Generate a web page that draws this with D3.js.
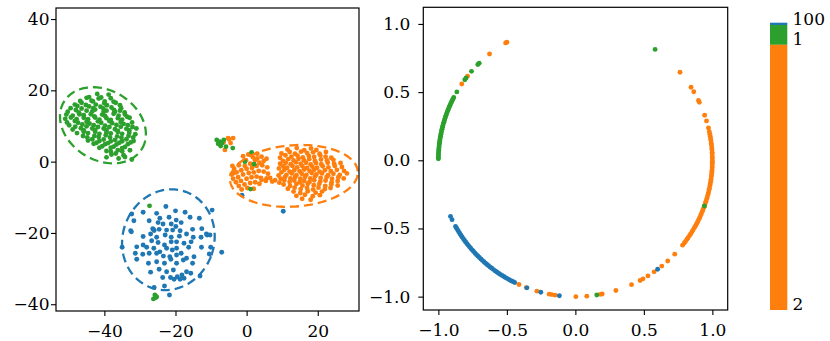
<!DOCTYPE html>
<html>
<head>
<meta charset="utf-8">
<script src="https://cdn.jsdelivr.net/npm/d3@7"></script>
<style>
body{margin:0;background:#fff}
text{font-family:"DejaVu Serif",serif;fill:#000}
</style>
</head>
<body>
<svg id="chart" width="830" height="341"></svg>
<script>
var BLUE = '#1f77b4', ORANGE = '#ff7f0e', GREEN = '#2ca02c';

// left panel: embedded points, one list per class
var bluePts = [[-22.7,-12.6],[-29.1,-14.2],[-25.3,-14.5],[-20.0,-13.8],[-17.3,-14.2],[-9.7,-13.6],[-32.3,-14.7],
 [-31.7,-16.6],[-27.4,-16.6],[-24.4,-15.9],[-21.8,-15.6],[-19.8,-16.4],[-15.9,-15.6],[-13.3,-15.9],[-24.9,-17.1],
 [-23.5,-17.5],[-21.2,-17.5],[-18.4,-17.1],[-32.6,-19.4],[-32.4,-19.7],[-26.2,-19.0],[-26.0,-19.3],[-26.4,-18.8],
 [-24.6,-19.0],[-22.5,-19.2],[-20.8,-19.2],[-19.9,-18.2],[-18.7,-19.4],[-15.2,-19.0],[-12.6,-18.8],[-11.1,-20.6],
 [-11.3,-20.3],[-10.3,-20.6],[-29.1,-21.0],[-27.0,-20.3],[-25.3,-21.2],[-22.9,-20.6],[-21.2,-21.2],[-18.9,-20.9],
 [-16.9,-20.3],[-15.0,-21.2],[-12.8,-21.2],[-30.9,-23.9],[-29.1,-23.4],[-26.7,-22.2],[-24.9,-22.7],[-23.1,-23.4],
 [-21.2,-22.5],[-19.7,-22.5],[-17.6,-22.9],[-15.6,-22.5],[-12.7,-24.0],[-10.1,-24.0],[-35.0,-24.0],[-31.3,-25.7],
 [-28.1,-24.0],[-26.1,-24.3],[-24.4,-25.3],[-22.5,-24.3],[-20.9,-24.8],[-19.7,-24.3],[-18.4,-25.7],[-16.3,-24.0],
 [-29.2,-26.0],[-27.4,-25.7],[-25.3,-25.7],[-23.4,-26.5],[-21.6,-26.7],[-19.7,-26.2],[-16.9,-27.1],[-14.8,-26.7],
 [-10.5,-25.9],[-7.0,-25.4],[-30.9,-27.4],[-27.6,-28.5],[-25.3,-28.1],[-23.1,-28.5],[-21.3,-27.4],[-19.7,-28.5],
 [-17.8,-27.6],[-15.2,-28.5],[-24.6,-30.2],[-22.5,-30.9],[-20.6,-30.4],[-19.5,-32.3],[-18.2,-31.8],[-16.9,-30.9],
 [-15.7,-31.3],[-13.1,-32.1],[-27.0,-31.0],[-23.6,-32.5],[-21.4,-32.5],[-20.4,-33.0],[-18.7,-33.0],[-17.6,-32.7],
 [-26.0,-35.3],[-23.1,-34.9],[-21.7,-37.4],[-1.3,-9.4],[10.3,-13.9]];

var orangePts = [
 // small group near (-5, 5)
 [-5.2,6.6],[-3.8,6.6],[-4.5,5.2],[-6.1,3.3],[-6.5,5.4],[-4.9,6.2],
 // left part of the big cluster
 [-1.0,1.5],[0.5,2.0],[1.8,1.2],[3.0,2.2],[2.4,0.4],[4.2,1.4],[5.6,0.8],[3.6,-0.3],[1.0,-0.6],[-0.5,-1.2],
 [-2.2,-1.0],[-3.5,-2.0],[-4.2,-3.6],[-2.8,-3.0],[-1.5,-2.4],[0.0,-2.0],[1.5,-1.8],[2.8,-1.2],[4.4,-1.0],
 [5.8,-1.6],[-3.8,-4.8],[-2.4,-4.4],[-1.0,-3.6],[0.6,-3.2],[2.0,-3.0],[3.4,-2.6],[4.8,-2.8],
 [6.0,-3.4],[-3.0,-5.8],[-1.6,-5.4],[0.0,-4.8],[1.4,-4.4],[2.8,-4.2],[4.0,-4.6],[-2.2,-6.8],[-0.6,-6.4],
 [1.0,-6.0],[2.4,-5.8],[3.6,-6.2],[5.4,-5.4],[0.2,-7.4],[2.0,-7.6],[-1.4,-7.8],[-3.6,-3.2],[-0.2,0.4],
 [6.6,-4.6],[8.0,-5.2],[3.0,0.9],[4.8,0.2],[-4.0,-1.2],[4.2,-5.1],[5.6,-4.7],[7.2,-5.6],
 // right part of the big cluster
 [11.5,3.4],[14.1,3.8],[16.2,3.2],[18.1,3.7],[19.6,3.3],
 [9.8,2.3],[12.1,2.7],[13.6,2.2],[15.3,2.8],[17.0,2.4],[18.7,2.6],[20.5,2.2],[22.3,2.7],
 [9.4,1.1],[10.9,1.8],[12.6,1.4],[14.3,1.7],[15.8,1.2],[17.5,1.6],[19.0,1.3],[20.7,1.8],[22.2,1.4],[23.8,1.1],
 [10.2,0.2],[11.7,0.7],[13.2,0.3],[14.6,0.8],[16.1,0.4],[17.6,0.7],[19.2,0.2],[20.9,0.6],[22.6,0.3],[24.4,0.5],
 [9.4,-0.6],[11.0,-0.3],[12.4,-0.7],[13.9,-0.2],[15.2,-0.6],[16.7,-0.3],[18.0,-0.8],[19.5,-0.4],[21.0,-0.7],
 [22.8,-0.3],[24.6,-0.6],[26.4,-0.4],
 [9.1,-1.9],[10.3,-1.3],[11.4,-1.7],[12.9,-1.2],[14.2,-1.6],[15.7,-1.3],[17.0,-1.8],[18.5,-1.4],[19.8,-1.7],[21.4,-1.3],
 [23.0,-1.6],[24.8,-1.2],[26.8,-1.5],
 [10.6,-2.3],[12.1,-2.8],[13.4,-2.4],[14.9,-2.7],[16.2,-2.2],[17.7,-2.6],[19.0,-2.3],[20.5,-2.8],
 [22.0,-2.4],[23.7,-2.7],[25.4,-2.3],[27.4,-2.6],
 [9.0,-3.9],[9.8,-3.0],[11.2,-3.7],[12.7,-3.3],[14.0,-3.8],[15.5,-3.4],[16.8,-3.7],[18.3,-3.2],[19.6,-3.6],[21.2,-3.3],
 [22.9,-3.8],[24.4,-3.4],[26.2,-3.7],[28.2,-3.3],
 [9.6,-4.8],[10.8,-4.3],[12.3,-4.7],[13.6,-4.4],[15.1,-4.8],[16.4,-4.3],[17.9,-4.7],[19.2,-4.2],[20.8,-4.6],
 [22.5,-4.3],[24.0,-4.8],[25.8,-4.4],[27.3,-4.7],
 [9.2,-5.9],[10.6,-5.2],[12.1,-5.7],[13.4,-5.3],[14.9,-5.8],[16.2,-5.4],[17.7,-5.7],[19.0,-5.2],[20.7,-5.6],[22.2,-5.3],
 [23.9,-5.8],[25.6,-5.4],
 [10.4,-6.4],[12.2,-6.8],[14.0,-6.3],[15.7,-6.7],[17.2,-6.2],[18.9,-6.6],[20.4,-6.3],[22.1,-6.8],[23.8,-6.4],[25.6,-6.7],
 [11.6,-7.6],[13.5,-7.3],[15.2,-7.7],[17.0,-7.4],[18.7,-7.8],[20.2,-7.3],[22.0,-7.7],[23.6,-7.4],
 [13.2,-8.4],[15.1,-8.8],[17.2,-8.3],[19.4,-8.7],[21.2,-8.4],
 [14.0,-9.6],[16.4,-9.3],[18.6,-9.7],[20.6,-9.4],[15.6,-10.4],[18.0,-10.7]];

var greenPts = [
 [-44.3,18.1],[-42.0,19.0],[-40.9,18.0],[-38.8,18.8],
 [-46.8,17.0],[-45.0,17.9],[-43.6,17.1],[-41.6,17.7],[-39.9,16.9],[-38.2,17.8],[-37.4,16.8],
 [-48.3,16.0],[-46.4,16.5],[-45.2,15.9],[-43.2,16.9],[-42.4,16.0],[-40.0,16.4],[-39.3,15.8],[-36.8,16.5],[-35.6,15.8],
 [-49.5,15.0],[-47.6,15.6],[-46.4,14.9],[-44.3,15.5],[-43.1,15.0],[-41.1,15.4],[-40.3,14.9],[-38.0,15.2],[-37.3,14.5],[-35.3,15.0],
 [-50.3,14.0],[-48.0,14.5],[-47.2,13.8],[-45.0,14.3],[-43.4,14.1],[-42.6,14.6],[-40.2,14.0],[-39.4,14.3],[-37.0,14.0],
 [-35.6,14.3],[-34.3,13.8],
 [-50.7,13.2],[-48.9,12.9],[-47.0,13.3],[-45.8,13.0],[-43.8,13.3],[-42.8,12.7],[-40.6,13.2],[-39.8,12.8],[-37.4,13.4],
 [-36.0,12.9],[-34.2,13.2],[-33.6,12.6],
 [-51.0,12.0],[-49.4,12.4],[-47.8,11.9],[-45.8,12.3],[-44.6,11.9],[-42.6,12.4],[-41.4,11.8],[-39.4,12.2],[-38.2,11.7],
 [-36.2,12.2],[-35.0,11.8],[-32.9,12.3],
 [-50.5,11.0],[-48.3,11.4],[-47.4,10.9],[-45.0,11.2],[-44.2,10.7],[-41.8,11.3],[-40.9,10.9],[-38.6,11.4],[-37.8,10.8],
 [-35.4,11.1],[-34.6,10.6],[-32.2,11.0],
 [-49.9,10.2],[-48.2,9.8],[-46.2,10.4],[-45.0,9.9],[-43.0,10.2],[-41.8,9.7],[-39.8,10.1],[-38.6,9.7],[-36.6,10.3],
 [-35.4,9.8],[-33.4,10.2],[-32.1,9.7],
 [-48.9,9.0],[-46.6,9.4],[-45.8,8.8],[-43.4,9.3],[-42.6,8.9],[-40.2,9.3],[-39.4,8.8],[-37.0,9.1],[-36.2,8.6],[-33.8,9.2],
 [-33.0,8.8],[-31.0,9.3],
 [-47.7,8.0],[-45.8,8.4],[-44.6,8.0],[-42.6,8.4],[-41.4,7.8],[-39.4,8.2],[-38.2,7.9],[-36.2,8.3],[-35.0,7.8],[-33.0,8.1],[-31.3,7.7],
 [-46.0,7.2],[-44.8,6.8],[-42.8,7.2],[-41.6,6.9],[-39.6,7.4],[-38.4,6.8],[-36.4,7.1],[-35.2,6.7],[-33.2,7.2],[-31.9,6.8],
 [-44.6,5.9],[-43.4,6.3],[-41.4,5.8],[-40.2,6.2],[-38.2,5.7],[-37.0,6.1],[-35.0,5.7],[-33.8,6.3],[-31.8,5.8],
 [-43.0,5.0],[-42.2,5.3],[-39.8,4.9],[-39.0,5.2],[-36.6,4.8],[-35.8,5.3],[-33.4,4.9],[-32.6,5.4],
 [-41.4,3.9],[-40.6,4.3],[-38.2,3.9],[-37.4,4.2],[-35.0,3.8],[-34.2,4.1],
 [-39.4,3.0],[-38.2,2.8],[-36.2,3.2],[-35.0,2.9],[-32.8,3.2],
 [-38.0,2.0],[-36.8,2.3],[-34.6,1.8],[-39.4,1.2],[-36.0,0.9],[-34.2,1.3],[-32.3,0.6],
 // strays
 [-27.3,-12.4],[-25.8,-37.4],[-25.3,-37.9],[-26.2,-38.5],[-25.5,-38.1],
 [1.4,2.6],[-0.5,0.0],[2.1,-0.7],[1.1,-7.7],
 [-8.4,6.1],[-7.5,5.6],[-6.4,6.1],[-7.3,4.4],[-5.8,4.2],[-3.9,3.8],[-8.0,5.0],[-6.9,5.2]];

// dashed ellipses: blue, orange, green
var ellColors = [BLUE, ORANGE, GREEN];
var ellCx = [-22.0, 13.3, -40.4];
var ellCy = [-21.9, -4.0, 10.2];
var ellA = [12.85, 18.0, 12.8];
var ellB = [14.3, 8.6, 9.8];
var ellAngle = [-20, 4, -31];

// right panel: angle (degrees) of each point on the unit circle
var orangeAngles = [120.0,120.6,128.8,141.9,146.0,40.2,32.4,30.2,26.0,25.2,19.3,16.8,13.7,
 12.1,11.0,10.2,9.1,8.3,7.2,6.4,5.3,4.5,3.4,2.6,1.5,0.7,-0.4,-1.2,-2.3,-3.1,-4.2,-5.0,-6.1,-6.9,-8.0,-8.8,
 -9.9,-10.7,-11.8,-12.6,-13.7,-14.5,-15.6,-16.4,-17.5,-18.3,-19.4,-20.2,-21.3,-22.1,-23.2,-24.0,-25.1,-25.9,
 -27.0,-27.8,-28.9,-29.7,-30.8,-31.6,-32.7,-33.5,-34.6,-35.4,-36.5,-37.3,-38.5,
 -43.5,-47.6,-50.9,-54.9,-58.0,-60.4,-61.8,-65.8,-72.8,-78.7,-79.5,-85.2,-89.8,-98.5,-99.9,-101.0,-106.3,-111.0,-114.3];
var blueAngles = [-155.7,-154.2,-151.0,-150.1,-149.2,-148.4,-147.5,-146.6,-145.8,-144.9,-144.0,-143.2,-142.3,-141.4,
 -140.6,-139.7,-138.8,-138.0,-137.1,-136.2,-135.4,-134.5,-133.6,-132.8,-131.9,-131.0,-130.2,-129.3,-128.4,-127.6,
 -126.7,-125.8,-125.0,-124.1,-123.2,-122.4,-121.5,-120.6,-119.8,-118.9,-118.0,-117.2,-116.3,
 -110.7,-104.6,-96.7,-53.1];
var greenAngles = [179.4,178.8,178.0,177.3,176.5,175.8,175.0,174.3,173.5,172.8,172.0,171.3,170.5,169.8,169.0,168.3,
 167.5,166.8,166.0,165.3,164.5,163.8,163.0,162.3,161.5,160.8,160.0,159.3,158.5,157.8,157.0,156.3,155.5,154.8,154.0,
 153.3,152.6,149.9,143.8,142.9,139.3,135.4,134.6,54.4,-19.6,-81.0];

var leftXTicks = [-40, -20, 0, 20], leftYTicks = [-40, -20, 0, 20, 40];
var rightTicks = [-1.0, -0.5, 0.0, 0.5, 1.0];

// colour bar
var barLabels = ['100', '1', '2'];
var barShares = [0.8, 6.9, 92.3];
var barColors = [BLUE, GREEN, ORANGE];

var svg = d3.select('#chart');
svg.append('rect').attr('width', 830).attr('height', 341).attr('fill', '#fff');

var FS = '17px';

function frame(x, y, xt, yt, fmt, ypad, id) {
	var r0 = x.range(), r1 = y.range();
	svg.append('clipPath').attr('id', id).append('rect')
		.attr('x', r0[0]).attr('y', r1[1]).attr('width', r0[1] - r0[0]).attr('height', r1[0] - r1[1]);

	var gx = svg.append('g').attr('transform', 'translate(0,' + r1[0] + ')')
		.call(d3.axisBottom(x).tickValues(xt).tickSize(5).tickPadding(8.5).tickFormat(fmt));
	var gy = svg.append('g').attr('transform', 'translate(' + r0[0] + ',0)')
		.call(d3.axisLeft(y).tickValues(yt).tickSize(5).tickPadding(ypad).tickFormat(fmt));
	[gx, gy].forEach(function(g) {
		g.select('.domain').remove();
		g.selectAll('line').attr('stroke', '#000').attr('stroke-width', 1.1);
		g.selectAll('text').style('font-size', FS).style('font-family', '"DejaVu Serif",serif').attr('fill', '#000');
	});
	return svg.append('g').attr('clip-path', 'url(#' + id + ')');
}

function box(x, y) {
	var r0 = x.range(), r1 = y.range();
	svg.append('rect').attr('x', r0[0]).attr('y', r1[1])
		.attr('width', r0[1] - r0[0]).attr('height', r1[0] - r1[1])
		.attr('fill', 'none').attr('stroke', '#000').attr('stroke-width', 1.2);
}

function dots(g, pts, x, y, color) {
	g.append('g').selectAll('circle').data(pts).enter().append('circle')
		.attr('cx', function(d) { return x(d[0]); })
		.attr('cy', function(d) { return y(d[1]); })
		.attr('r', 2.45)
		.attr('fill', color);
}

// ---- left panel
var xL = d3.scaleLinear().domain([-53.6, 31.6]).range([56, 359]);
var yL = d3.scaleLinear().domain([-41.9, 43.1]).range([311, 8]);
var gL = frame(xL, yL, leftXTicks, leftYTicks, d3.format('d'), 1.5, 'clipL');

dots(gL, bluePts, xL, yL, BLUE);
dots(gL, orangePts, xL, yL, ORANGE);
dots(gL, greenPts, xL, yL, GREEN);

var steps = d3.range(0, 360, 3);
var ellLine = d3.line().curve(d3.curveLinearClosed);
ellColors.forEach(function(c, i) {
	var phi = ellAngle[i] * Math.PI / 180;
	var path = steps.map(function(s) {
		var t = s * Math.PI / 180;
		var ex = ellCx[i] + ellA[i] * Math.cos(t) * Math.cos(phi) - ellB[i] * Math.sin(t) * Math.sin(phi);
		var ey = ellCy[i] + ellA[i] * Math.cos(t) * Math.sin(phi) + ellB[i] * Math.sin(t) * Math.cos(phi);
		return [xL(ex), yL(ey)];
	});
	gL.append('path').attr('d', ellLine(path))
		.attr('fill', 'none').attr('stroke', c).attr('stroke-width', 2.3)
		.attr('stroke-dasharray', '9,5');
});
box(xL, yL);

// ---- right panel
var xR = d3.scaleLinear().domain([-1.11, 1.112]).range([423.3, 727.7]);
var yR = d3.scaleLinear().domain([-1.098, 1.122]).range([310, 7.3]);
var gR = frame(xR, yR, rightTicks, rightTicks, d3.format('.1f'), 8, 'clipR');

function onCircle(a) {
	var t = a * Math.PI / 180;
	return [Math.cos(t), Math.sin(t)];
}
dots(gR, orangeAngles.map(onCircle), xR, yR, ORANGE);
dots(gR, blueAngles.map(onCircle), xR, yR, BLUE);
dots(gR, greenAngles.map(onCircle), xR, yR, GREEN);
box(xR, yR);

// ---- colour bar
var yC = d3.scaleLinear().domain([0, 100]).range([22.7, 310]);
var ends = d3.cumsum(barShares);
var gC = svg.append('g');
gC.selectAll('rect').data(barShares).enter().append('rect')
	.attr('x', 770).attr('width', 17.3)
	.attr('y', function(d, i) { return yC(ends[i] - d); })
	.attr('height', function(d) { return yC(d) - yC(0); })
	.attr('fill', function(d, i) { return barColors[i]; });
gC.selectAll('text').data(barLabels).enter().append('text')
	.attr('x', 792.5)
	.attr('y', function(d, i) { return yC(ends[i]); })
	.style('font-size', FS)
	.text(function(d) { return d; });
</script>
</body>
</html>
